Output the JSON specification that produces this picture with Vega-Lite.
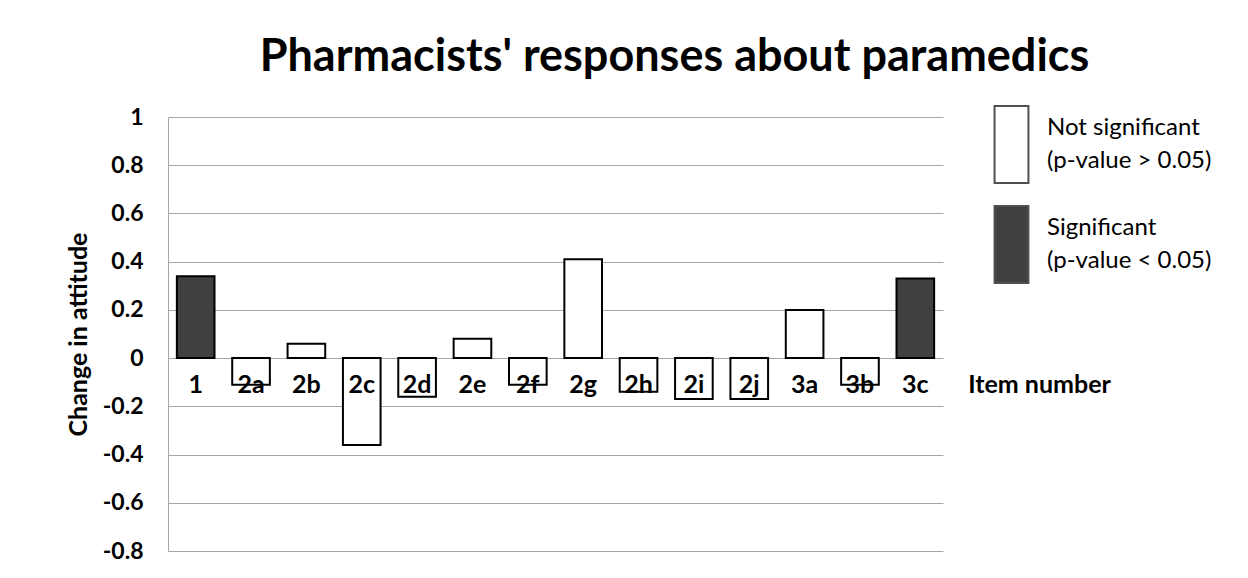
{
  "$schema": "https://vega.github.io/schema/vega-lite/v6.json",
  "width": 775,
  "height": 434,
  "autosize": {"type": "none"},
  "padding": {"left": 168, "top": 117, "right": 305, "bottom": 27},
  "background": "white",
  "title": {
    "text": "Pharmacists' responses about paramedics",
    "font": "Lato",
    "fontSize": 45,
    "fontWeight": "bold",
    "color": "black",
    "anchor": "middle",
    "dx": 119,
    "dy": 56,
    "baseline": "alphabetic",
    "offset": 45
  },
  "data": {
    "values": [
      {"item": "1", "change": 0.34, "sig": "Significant|(p-value < 0.05)"},
      {"item": "2a", "change": -0.11, "sig": "Not significant|(p-value > 0.05)"},
      {"item": "2b", "change": 0.06, "sig": "Not significant|(p-value > 0.05)"},
      {"item": "2c", "change": -0.36, "sig": "Not significant|(p-value > 0.05)"},
      {"item": "2d", "change": -0.16, "sig": "Not significant|(p-value > 0.05)"},
      {"item": "2e", "change": 0.08, "sig": "Not significant|(p-value > 0.05)"},
      {"item": "2f", "change": -0.11, "sig": "Not significant|(p-value > 0.05)"},
      {"item": "2g", "change": 0.41, "sig": "Not significant|(p-value > 0.05)"},
      {"item": "2h", "change": -0.14, "sig": "Not significant|(p-value > 0.05)"},
      {"item": "2i", "change": -0.17, "sig": "Not significant|(p-value > 0.05)"},
      {"item": "2j", "change": -0.17, "sig": "Not significant|(p-value > 0.05)"},
      {"item": "3a", "change": 0.20, "sig": "Not significant|(p-value > 0.05)"},
      {"item": "3b", "change": -0.11, "sig": "Not significant|(p-value > 0.05)"},
      {"item": "3c", "change": 0.33, "sig": "Significant|(p-value < 0.05)"}
    ]
  },
  "mark": {"type": "bar", "stroke": "black", "strokeWidth": 2},
  "encoding": {
    "x": {
      "field": "item",
      "type": "nominal",
      "sort": null,
      "scale": {"paddingInner": 0.32, "paddingOuter": 0.16},
      "axis": {
        "orient": "bottom",
        "offset": -193,
        "zindex": 1,
        "domain": false,
        "ticks": false,
        "labelAngle": 0,
        "labelBaseline": "alphabetic",
        "labelPadding": 34,
        "labelFont": "Lato",
        "labelFontSize": 25,
        "labelFontWeight": "bold",
        "labelColor": "black",
        "title": "Item number",
        "titleFont": "Lato",
        "titleFontSize": 25,
        "titleFontWeight": "bold",
        "titleColor": "black",
        "titleX": 871,
        "titleY": 34,
        "titleAlign": "center",
        "titleBaseline": "alphabetic"
      }
    },
    "y": {
      "field": "change",
      "type": "quantitative",
      "scale": {"domain": [-0.8, 1], "nice": false, "zero": false},
      "axis": {
        "values": [-0.8, -0.6, -0.4, -0.2, 0, 0.2, 0.4, 0.6, 0.8, 1],
        "labelExpr": "'' + datum.value",
        "domain": true,
        "domainColor": "#a6a6a6",
        "domainWidth": 1,
        "ticks": false,
        "tickSize": 0,
        "grid": true,
        "gridColor": "#a6a6a6",
        "gridWidth": 1,
        "gridOpacity": 1,
        "labelPadding": 25,
        "labelFont": "Lato",
        "labelFontSize": 23,
        "labelFontWeight": "bold",
        "labelColor": "black",
        "title": "Change in attitude",
        "titleFont": "Lato",
        "titleFontSize": 25,
        "titleFontWeight": "bold",
        "titleColor": "black",
        "titleX": -82,
        "titleY": 217,
        "titleAngle": -90,
        "titleAlign": "center",
        "titleBaseline": "alphabetic"
      }
    },
    "fill": {
      "field": "sig",
      "type": "nominal",
      "scale": {
        "domain": ["Not significant|(p-value > 0.05)", "Significant|(p-value < 0.05)"],
        "range": ["white", "#404040"]
      },
      "legend": {
        "title": null,
        "orient": "none",
        "legendX": 804,
        "legendY": -12,
        "symbolType": "M-0.44,-1H0.44V1H-0.44Z",
        "symbolSize": 5929,
        "symbolStrokeColor": "#505050",
        "symbolStrokeWidth": 2,
        "symbolOpacity": 1,
        "rowPadding": 15,
        "labelOffset": -4,
        "labelBaseline": "line-bottom",
        "labelExpr": "split(datum.label, '|')",
        "labelFont": "Lato",
        "labelFontSize": 24,
        "labelColor": "black",
        "labelLimit": 400
      }
    }
  },
  "config": {
    "view": {"stroke": null},
    "style": {"guide-label": {"lineHeight": 33}}
  }
}
